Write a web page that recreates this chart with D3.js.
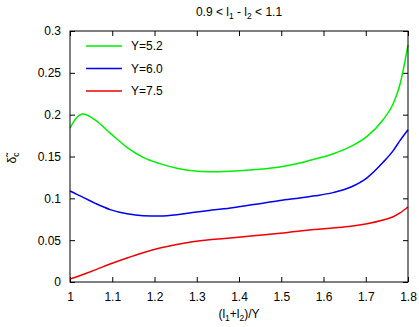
<!DOCTYPE html>
<html>
<head>
<meta charset="utf-8">
<script src="https://cdn.jsdelivr.net/npm/d3@7"></script>
<style>
  body { margin: 0; background: #fff; }
  text { font-family: "Liberation Sans", Arial, sans-serif; font-size: 12px; fill: #000; }
</style>
</head>
<body>
<svg id="chart" width="419" height="327"></svg>
<script>
var xTicks = [1, 1.1, 1.2, 1.3, 1.4, 1.5, 1.6, 1.7, 1.8],
  yTicks = [0, 0.05, 0.1, 0.15, 0.2, 0.25, 0.3];

var xs = [1.0, 1.015, 1.031, 1.06, 1.095, 1.135, 1.173, 1.213, 1.253, 1.29, 1.33, 1.38, 1.44, 1.497, 1.544, 1.58, 1.622, 1.665, 1.703, 1.741, 1.765, 1.781, 1.8];
var green = [0.184, 0.196, 0.2008, 0.1935, 0.178, 0.161, 0.149, 0.1415, 0.136, 0.133, 0.1318, 0.1325, 0.1345, 0.1375, 0.1422, 0.147, 0.153, 0.162, 0.174, 0.194, 0.213, 0.236, 0.283];
var blue = [0.1088, 0.105, 0.1012, 0.094, 0.0865, 0.0815, 0.0793, 0.079, 0.0805, 0.0832, 0.0855, 0.0885, 0.093, 0.0975, 0.1005, 0.103, 0.1068, 0.1135, 0.1245, 0.143, 0.157, 0.169, 0.182];
var red = [0.0036, 0.006, 0.009, 0.0145, 0.0215, 0.0287, 0.035, 0.0406, 0.0448, 0.048, 0.0505, 0.0526, 0.0555, 0.0583, 0.061, 0.0627, 0.0645, 0.0665, 0.0695, 0.074, 0.078, 0.0825, 0.0896];

var series = [
  {name: "Y=5.2", color: "#00ee00", values: green},
  {name: "Y=6.0", color: "#0000ee", values: blue},
  {name: "Y=7.5", color: "#ee0000", values: red}
];

var svg = d3.select("#chart"),
  margin = {top: 31, right: 11, bottom: 45, left: 70},
  width = 419 - margin.left - margin.right,
  height = 327 - margin.top - margin.bottom,
  g = svg.append("g").attr("transform", "translate(" + margin.left + "," + margin.top + ")");

var x = d3.scaleLinear().domain([1, 1.8]).range([0, width]);
var y = d3.scaleLinear().domain([0, 0.3]).range([height, 0]);

var fmt = function(d) { return String(+d.toFixed(2)); };

// axes with inward ticks on all four sides
g.append("g").attr("transform", "translate(0," + height + ")")
  .call(d3.axisBottom(x).tickValues(xTicks).tickSize(-5).tickPadding(10).tickFormat(fmt));
g.append("g")
  .call(d3.axisTop(x).tickValues(xTicks).tickSize(-5).tickFormat(""));
g.append("g")
  .call(d3.axisLeft(y).tickValues(yTicks).tickSize(-5).tickPadding(9).tickFormat(fmt));
g.append("g").attr("transform", "translate(" + width + ",0)")
  .call(d3.axisRight(y).tickValues(yTicks).tickSize(-5).tickFormat(""));

g.selectAll(".domain").remove();
g.selectAll(".tick line").attr("stroke", "#000");
g.selectAll(".tick text").attr("font-size", null).attr("font-family", null);

var line = d3.line()
  .x(function(d) { return x(d[0]); })
  .y(function(d) { return y(d[1]); })
  .curve(d3.curveMonotoneX);

series.forEach(function(s) {
  g.append("path")
    .datum(xs.map(function(v, i) { return [v, s.values[i]]; }))
    .attr("fill", "none")
    .attr("stroke", s.color)
    .attr("stroke-width", 1.5)
    .attr("d", line);
});

g.append("rect")
  .attr("width", width).attr("height", height)
  .attr("fill", "none").attr("stroke", "#000").attr("stroke-width", 1);

// legend
var legend = g.append("g").attr("transform", "translate(16,15)");
series.forEach(function(s, i) {
  legend.append("line")
    .attr("x1", 0).attr("x2", 36)
    .attr("y1", i * 22.5).attr("y2", i * 22.5)
    .attr("stroke", s.color).attr("stroke-width", 1.5);
  legend.append("text")
    .attr("x", 45).attr("y", i * 22.5).attr("dy", "0.35em")
    .text(s.name);
});

// title
var title = svg.append("text").attr("x", margin.left + width / 2).attr("y", 16).attr("text-anchor", "middle");
title.append("tspan").text("0.9 < l");
title.append("tspan").attr("dy", 3).attr("font-size", "8.5px").text("1");
title.append("tspan").attr("dy", -3).text(" - l");
title.append("tspan").attr("dy", 3).attr("font-size", "8.5px").text("2");
title.append("tspan").attr("dy", -3).text(" < 1.1");

// x label
var xl = svg.append("text").attr("x", margin.left + width / 2).attr("y", 318).attr("text-anchor", "middle");
xl.append("tspan").text("(l");
xl.append("tspan").attr("dy", 3).attr("font-size", "8.5px").text("1");
xl.append("tspan").attr("dy", -3).text("+l");
xl.append("tspan").attr("dy", 3).attr("font-size", "8.5px").text("2");
xl.append("tspan").attr("dy", -3).text(")/Y");

// y label
var yl = svg.append("text").attr("transform", "translate(16,158) rotate(-90)").attr("text-anchor", "middle");
yl.append("tspan").text("δ\u0303");
yl.append("tspan").attr("dy", 3).attr("font-size", "8.5px").text("c");
</script>
</body>
</html>
